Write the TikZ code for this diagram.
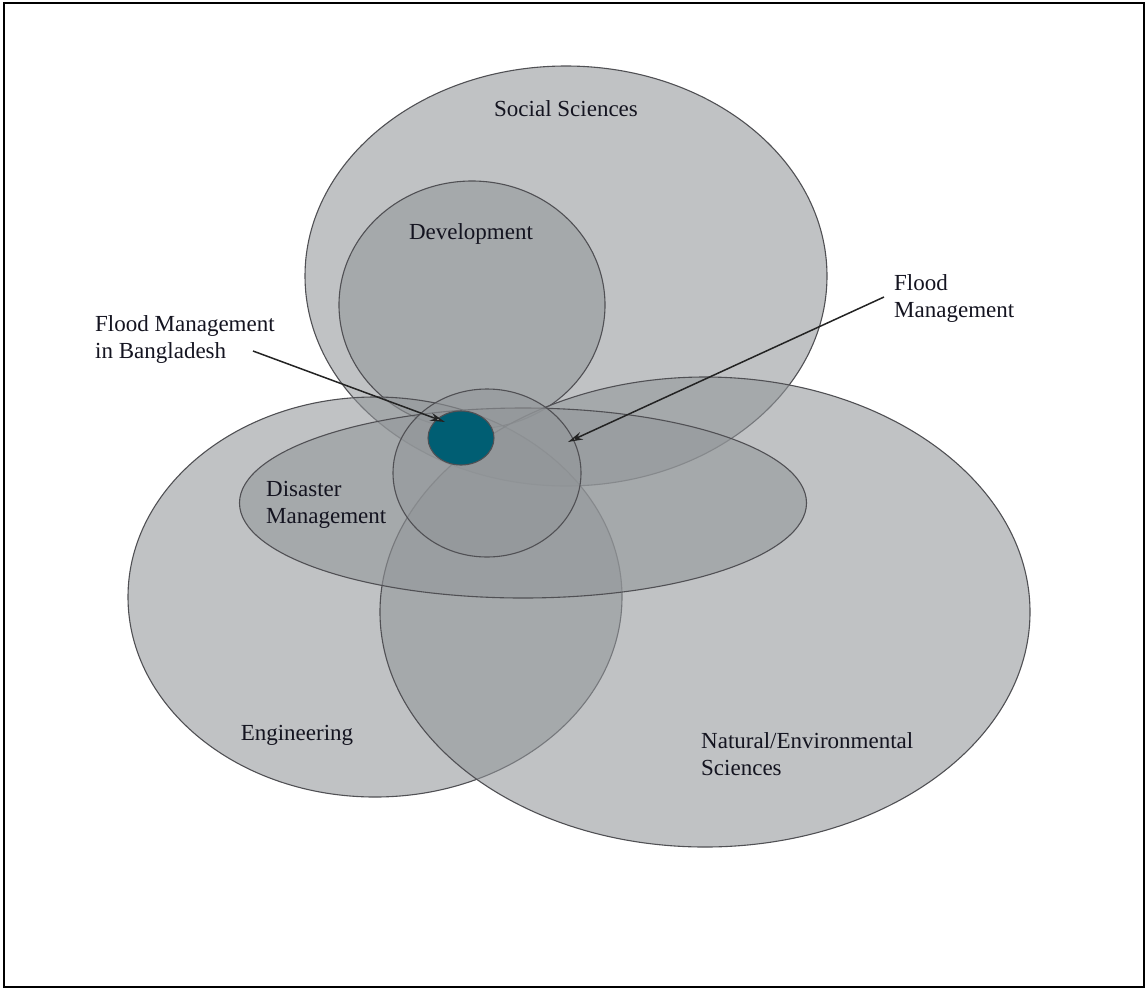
\documentclass[tikz,border=0pt]{standalone}
\usepackage{fontspec}
\setmainfont{Liberation Serif}
\usetikzlibrary{shapes.geometric,arrows.meta}
\definecolor{setgray}{RGB}{146,150,153}
\definecolor{edgegray}{RGB}{80,80,84}
\definecolor{bdteal}{RGB}{0,94,115}
\definecolor{labelcol}{RGB}{20,20,32}
\definecolor{arrowcol}{RGB}{35,35,35}
\begin{document}
\begin{tikzpicture}[x=1pt,y=-1pt,
  setell/.style={ellipse, draw=edgegray, line width=1.1pt, fill=setgray, fill opacity=0.58, inner sep=0pt, outer sep=0pt},
  lbl/.style={font=\fontsize{23}{27}\selectfont, text=labelcol, inner sep=0pt, align=left},
  ptr/.style={draw=arrowcol, line width=1.5pt, -{Stealth[length=15pt,width=8pt,fill=white]}}]
\useasboundingbox (0,0) rectangle (1146,989);
\draw[line width=2.3pt] (4,3) rectangle (1144,987);

% sets
\node[setell, minimum width=522pt, minimum height=420pt] (social) at (566,276) {};
\node[setell, minimum width=266pt, minimum height=248pt] (devel) at (472,305) {};
\node[setell, minimum width=494pt, minimum height=400pt] (engin) at (375,597) {};
\node[setell, minimum width=650pt, minimum height=470pt] (natur) at (705,612) {};
\node[setell, minimum width=567pt, minimum height=190pt] (disas) at (523,503) {};
\node[setell, minimum width=188pt, minimum height=168pt] (flood) at (487,473) {};
\node[ellipse, draw=edgegray, line width=1.1pt, fill=bdteal, inner sep=0pt, minimum width=66pt, minimum height=54pt] (bangla) at (461,438) {};

% labels (multi-line: base = baseline of last line)
\node[lbl, anchor=base] (ss) at (566,116) {Social Sciences};
\node[lbl, anchor=base] (dev) at (471,239) {Development};
\node[lbl, anchor=base west] (fmb) at (95,358) {Flood Management\\in Bangladesh};
\node[lbl, anchor=base west] (fm) at (894,317) {Flood\\Management};
\node[lbl, anchor=base west] (dm) at (266,523) {Disaster\\Management};
\node[lbl, anchor=base] (eng) at (297,740) {Engineering};
\node[lbl, anchor=base west] (nat) at (701,775) {Natural/Environmental\\Sciences};

% pointers
\coordinate (a1s) at (253,351);
\coordinate (a1e) at (445,422);
\coordinate (a2s) at (884,297);
\coordinate (a2e) at (568,442);
\draw[ptr] (a1s) -- (a1e);
\draw[ptr] (a2s) -- (a2e);
\end{tikzpicture}
\end{document}
